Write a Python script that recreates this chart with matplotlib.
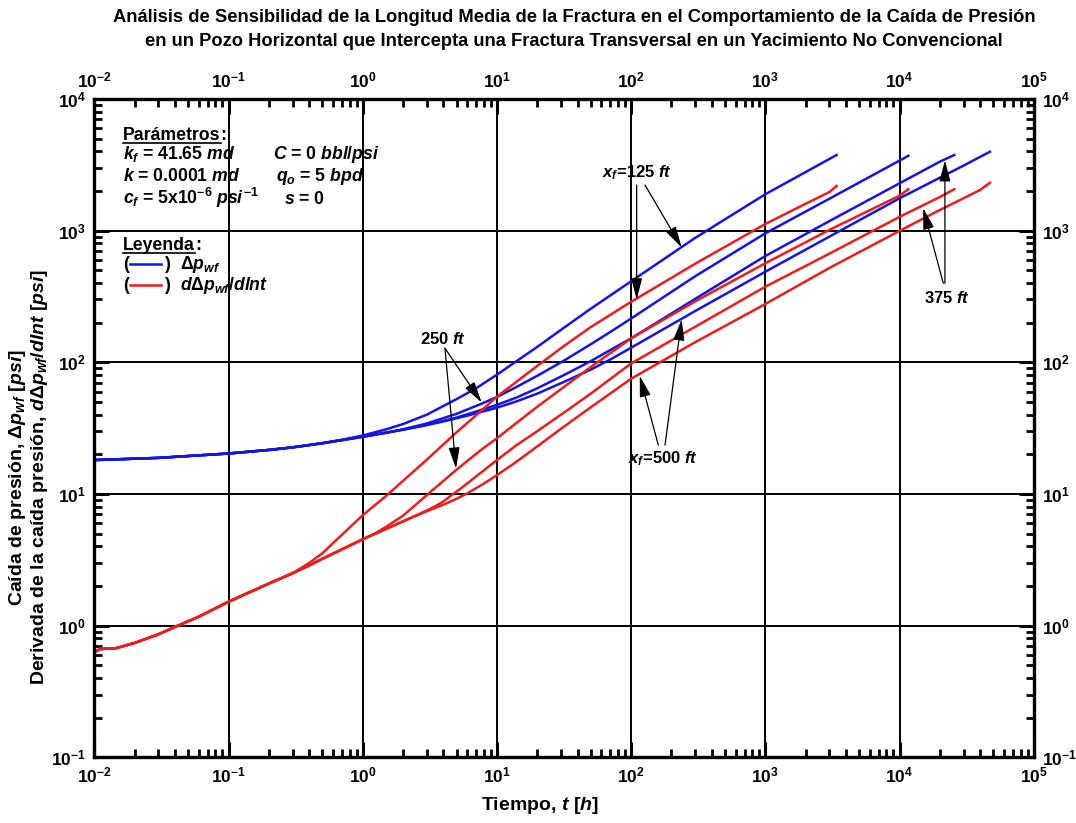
import matplotlib
matplotlib.use('Agg')
import matplotlib.pyplot as plt
from matplotlib.lines import Line2D
from matplotlib.ticker import LogLocator, NullFormatter, FixedLocator, FixedFormatter

plt.rcParams['font.family'] = 'Liberation Sans'
plt.rcParams['font.weight'] = 'bold'
plt.rcParams['mathtext.fontset'] = 'custom'
plt.rcParams['mathtext.rm'] = 'Liberation Sans:bold'
plt.rcParams['mathtext.it'] = 'Liberation Sans:italic:bold'
plt.rcParams['mathtext.bf'] = 'Liberation Sans:bold'
plt.rcParams['mathtext.sf'] = 'Liberation Sans:bold'

# ---- data (t in h, values in psi) ----
# early part shared by all fracture half-lengths
blue_early_t = [0.01, 0.03, 0.1, 0.2, 0.3, 0.5]
blue_early = [18.1, 18.8, 20.3, 21.6, 22.6, 24.3]
red_early_t = [0.01, 0.011, 0.0145, 0.02, 0.03, 0.04, 0.06, 0.1, 0.2, 0.3]
red_early = [0.63, 0.665, 0.675, 0.74, 0.86, 0.98, 1.17, 1.52, 2.09, 2.5]

# pressure drop, delta p_wf
dp125_t = [0.7, 1, 1.5, 2, 3, 5, 7, 10, 14, 20, 31.6, 50, 100, 300, 1000, 3400]
dp125 = [25.8, 27.8, 31, 34, 40, 52.5, 63.5, 80.5, 102, 131, 183, 255, 412, 880, 1888, 3750]
dp250_t = [1, 1.5, 2, 3, 5, 7.7, 10, 14, 20, 31.6, 50, 70, 100, 300, 1000, 3000, 10000, 11640]
dp250 = [27.2, 29.2, 31.0, 34.3, 40.6, 48.5, 54.5, 65, 79, 103, 137, 170, 215, 450, 953, 1745, 3400, 3700]
dp375_t = [1, 2, 3, 5, 7, 10, 14, 20, 31.6, 50, 70, 100, 300, 1000, 3000, 10000, 20000, 25600]
dp375 = [27.2, 30.8, 33.4, 38.0, 42.3, 47.5, 54, 63.5, 80, 102, 124, 152, 303, 641, 1180, 2285, 3340, 3750]
dp500_t = [1, 2, 3, 4, 6, 10, 14, 20, 31.6, 50, 70, 100, 300, 1000, 3000, 10000, 30000, 47200]
dp500 = [27.2, 30.8, 33.4, 35.6, 39.3, 45.2, 50.5, 57.8, 71, 88, 105, 129, 245, 487, 900, 1758, 3115, 3970]

# derivative, d delta p_wf / d ln t
der125_t = [0.4, 0.5, 0.7, 1, 1.5, 2, 3, 5, 7, 10, 20, 31.6, 50, 100, 300, 1000, 2000, 3000, 3400]
der125 = [3.0, 3.55, 4.9, 6.9, 9.7, 12.6, 18.2, 29.4, 39.6, 54.8, 94, 133, 185, 288, 560, 1122, 1600, 1960, 2183]
der250_t = [0.4, 0.5, 0.7, 1, 1.25, 1.5, 2, 3, 5, 7.7, 10, 20, 31.6, 50, 100, 300, 1000, 3000, 10000, 11640]
der250 = [2.87, 3.22, 3.8, 4.53, 5.05, 5.65, 6.85, 9.8, 15.3, 21.8, 26.5, 46, 65, 92, 152, 290, 565, 1012, 1840, 2061]
der375_t = [0.4, 0.5, 0.7, 1, 2, 3, 3.5, 4, 4.6, 5.5, 7, 10, 14, 20, 31.6, 50, 100, 300, 1000, 3000, 10000,
            20000, 25600]
der375 = [2.87, 3.22, 3.8, 4.53, 6.2, 7.5, 8.1, 8.8, 9.8, 11.2, 13.6, 18.1, 23.5, 30, 41.5, 57.8, 98, 186, 375,
          668, 1271, 1800, 2061]
der500_t = [0.4, 0.5, 0.7, 1, 2, 3, 4, 5, 6, 8, 10, 14, 20, 31.6, 50, 100, 300, 1000, 3000, 10000, 20000,
            30000, 40000, 47200]
der500 = [2.87, 3.22, 3.8, 4.53, 6.2, 7.4, 8.3, 9.2, 10.1, 12, 13.9, 17.6, 23, 32.5, 45.5, 75, 142, 277, 520,
          995, 1435, 1760, 2040, 2310]

blue = '#1414e6'
red = '#ee1c1c'

fig = plt.figure(figsize=(10.76, 8.23), dpi=100)
ax = fig.add_axes([94.3 / 1076, 1 - 757.4 / 823, 939.4 / 1076, 658.5 / 823])
ax.set_xscale('log')
ax.set_yscale('log')

for t, v in [(dp125_t, dp125), (dp250_t, dp250), (dp375_t, dp375), (dp500_t, dp500)]:
    ax.plot(blue_early_t + t, blue_early + v, color=blue, lw=1.8)
for t, v in [(der125_t, der125), (der250_t, der250), (der375_t, der375), (der500_t, der500)]:
    ax.plot(red_early_t + t, red_early + v, color=red, lw=1.8)

ax.set_xlim(1e-2, 1e5)
ax.set_ylim(1e-1, 1e4)

xmaj = [1e-2, 1e-1, 1e0, 1e1, 1e2, 1e3, 1e4, 1e5]
xlab = [r'$10^{-2}$', r'$10^{-1}$', r'$10^{0}$', r'$10^{1}$', r'$10^{2}$', r'$10^{3}$', r'$10^{4}$', r'$10^{5}$']
ymaj = [1e-1, 1e0, 1e1, 1e2, 1e3, 1e4]
ylab = [r'$10^{-1}$', r'$10^{0}$', r'$10^{1}$', r'$10^{2}$', r'$10^{3}$', r'$10^{4}$']
ax.xaxis.set_major_locator(FixedLocator(xmaj))
ax.xaxis.set_major_formatter(FixedFormatter(xlab))
ax.yaxis.set_major_locator(FixedLocator(ymaj))
ax.yaxis.set_major_formatter(FixedFormatter(ylab))
ax.xaxis.set_minor_locator(LogLocator(base=10, subs=range(2, 10), numticks=20))
ax.yaxis.set_minor_locator(LogLocator(base=10, subs=range(2, 10), numticks=20))
ax.xaxis.set_minor_formatter(NullFormatter())
ax.yaxis.set_minor_formatter(NullFormatter())

ax.tick_params(which='both', direction='in', top=True, right=True,
               labeltop=True, labelright=True, labelsize=12.5, pad=6)
ax.tick_params(which='major', length=11, width=2.2)
ax.tick_params(which='minor', length=6, width=2)
for s in ax.spines.values():
    s.set_linewidth(2.4)
ax.grid(which='major', color='black', lw=1.4)
ax.set_axisbelow(True)

# titles and axis labels
fig.text(574 / 1076, 1 - 18 / 823, 'Análisis de Sensibilidad de la Longitud Media de la Fractura '
         'en el Comportamiento de la Caída de Presión', ha='center', va='center', fontsize=13.2)
fig.text(574 / 1076, 1 - 42 / 823, 'en un Pozo Horizontal que Intercepta una Fractura Transversal '
         'en un Yacimiento No Convencional', ha='center', va='center', fontsize=13.2)
fig.text(540 / 1076, 1 - 806 / 823, r'Tiempo, $t$ [$h$]', ha='center', va='center', fontsize=14)
fig.text(18 / 1076, 1 - 477 / 823, r'Caída de presión, $\Delta p_{wf}$ [$psi$]',
         rotation=90, ha='center', va='center', fontsize=14)
fig.text(40 / 1076, 1 - 477 / 823, r'Derivada de la caída presión, $d\Delta p_{wf}/dlnt$ [$psi$]',
         rotation=90, ha='center', va='center', fontsize=14)

# parameter block
fs = 12.7
def ftext(px, py, s, **kw):
    return fig.text(px / 1076, 1 - py / 823, s, fontsize=fs, va='baseline', **kw)

t_par = ftext(123, 140, 'Parámetros')
ftext(123, 159, r'$k_f$ = 41.65 $md$')
ftext(273, 159, r'$C$ = 0 $bbl/psi$')
ftext(123, 181, r'$k$ = 0.0001 $md$')
ftext(276, 181, r'$q_o$ = 5 $bpd$')
ftext(123, 204, r'$c_f$ = 5x10$^{-6}$ $psi^{-1}$')
ftext(284, 204, r'$s$ = 0')
t_ley = ftext(123, 250, 'Leyenda')
ftext(123, 269, '(')
ftext(165, 269, ')')
ftext(180, 269, r'$\Delta p_{wf}$')
ftext(123, 290, '(')
ftext(165, 290, ')')
ftext(180, 290, r'$d\Delta p_{wf}/dlnt$')
fig.add_artist(Line2D([130 / 1076, 161 / 1076], [1 - 264 / 823] * 2, color=blue, lw=1.8))
fig.add_artist(Line2D([130 / 1076, 161 / 1076], [1 - 285 / 823] * 2, color=red, lw=1.8))

fig.canvas.draw()
rend = fig.canvas.get_renderer()
for t, py in [(t_par, 140), (t_ley, 250)]:
    bb = t.get_window_extent(rend)
    x0, x1 = bb.x0 / 1076, bb.x1 / 1076
    fig.add_artist(Line2D([x0, x1], [1 - (py + 2.5) / 823] * 2, color='black', lw=1.2))
    fig.text(x1, 1 - py / 823, ':', fontsize=fs, va='baseline')

# annotations
ap = dict(arrowstyle='-|>,head_length=0.65,head_width=0.17', color='black', lw=0.9,
          shrinkA=0, shrinkB=0, mutation_scale=20)
afs = 12
ax.text(110.6, 2735, r'$x_f$=125 $ft$', ha='center', va='center', fontsize=afs)
ax.annotate('', xy=(110, 300), xytext=(110, 2218), arrowprops=ap)
ax.annotate('', xy=(238, 745), xytext=(127, 2218), arrowprops=ap)
ax.text(3.96, 150, r'250 $ft$', ha='center', va='center', fontsize=afs)
ax.annotate('', xy=(7.7, 49.5), xytext=(4.1, 128), arrowprops=ap)
ax.annotate('', xy=(4.96, 15.6), xytext=(4.1, 128), arrowprops=ap)
ax.text(174, 18.7, r'$x_f$=500 $ft$', ha='center', va='center', fontsize=afs)
ax.annotate('', xy=(116, 79), xytext=(159.5, 23.5), arrowprops=ap)
ax.annotate('', xy=(238, 212), xytext=(179, 23.5), arrowprops=ap)
ax.text(22400, 308, r'375 $ft$', ha='center', va='center', fontsize=afs)
ax.annotate('', xy=(15000, 1480), xytext=(21200, 398), arrowprops=ap)
ax.annotate('', xy=(21800, 3420), xytext=(21800, 398), arrowprops=ap)

fig.savefig('out.png', dpi=100)
